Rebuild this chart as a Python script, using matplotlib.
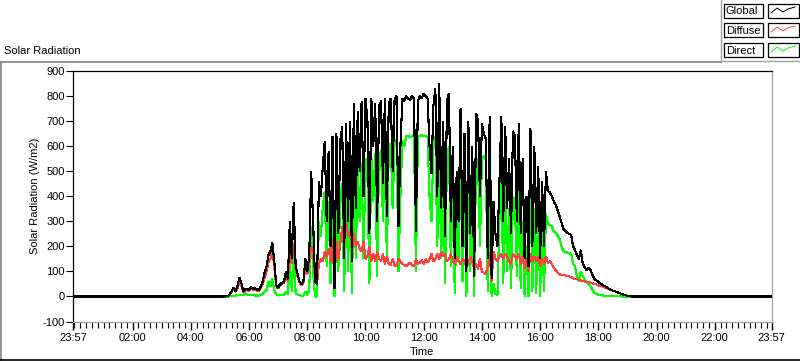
import matplotlib
matplotlib.use("Agg")
import matplotlib.pyplot as plt
from matplotlib.lines import Line2D
from matplotlib.patches import Rectangle
import numpy as np

# ---------------- data (W/m2), 4-minute samples from 05:12 ----------------
start_min = 312
step_min = 4
x_start, x_end = -3, 1437   # 23:57 .. 23:57

global_vals = [
    0, 2, 8, 20, 35, 22, 40, 75, 55, 20,
    28, 30, 25, 38, 30, 34, 28, 25, 40, 60,
    95, 120, 165, 180, 215, 140, 45, 35, 50, 55,
    60, 100, 70, 300, 150, 375, 120, 90, 60, 50,
    60, 150, 100, 160, 500, 300, 60, 50, 460, 400,
    520, 620, 300, 580, 200, 640, 30, 650, 250, 620,
    680, 150, 690, 300, 700, 140, 770, 350, 740, 500,
    780, 400, 790, 700, 250, 790, 600, 770, 300, 760,
    780, 450, 790, 320, 770, 790, 500, 790, 800, 280,
    600, 790, 780, 800, 790, 785, 800, 790, 260, 780,
    800, 790, 810, 800, 790, 600, 490, 760, 830, 400,
    850, 350, 700, 240, 780, 810, 300, 600, 150, 500,
    300, 750, 200, 650, 100, 700, 250, 600, 80, 730,
    700, 400, 690, 650, 630, 150, 720, 70, 380, 250,
    200, 450, 720, 300, 680, 350, 550, 250, 660, 640,
    300, 690, 250, 550, 150, 400, 120, 670, 200, 600,
    250, 520, 150, 460, 200, 500, 420, 415, 400, 380,
    365, 345, 320, 295, 270, 262, 255, 250, 245, 200,
    185, 165, 150, 185, 130, 115, 105, 115, 105, 85,
    70, 64, 58, 52, 47, 42, 38, 33, 29, 25,
    22, 19, 16, 13, 10, 7, 5, 3, 1, 0, 0,
]
diffuse_vals = [
    0, 2, 7, 17, 30, 19, 32, 55, 45, 17,
    24, 26, 22, 32, 26, 30, 24, 22, 34, 48,
    75, 100, 135, 150, 180, 120, 40, 32, 45, 50,
    55, 80, 60, 180, 130, 210, 110, 80, 55, 45,
    55, 120, 90, 130, 200, 180, 60, 50, 130, 150,
    140, 180, 160, 190, 140, 230, 50, 220, 150, 210,
    280, 200, 300, 240, 260, 180, 250, 200, 220, 190,
    180, 220, 150, 160, 200, 140, 170, 140, 180, 150,
    140, 170, 130, 160, 130, 125, 150, 125, 120, 150,
    140, 130, 125, 120, 130, 135, 125, 120, 150, 130,
    135, 145, 130, 150, 135, 150, 170, 140, 150, 170,
    150, 180, 160, 170, 140, 150, 170, 140, 130, 160,
    140, 130, 150, 140, 120, 130, 160, 140, 110, 130,
    110, 150, 100, 95, 90, 120, 170, 60, 180, 150,
    140, 160, 170, 150, 170, 160, 140, 130, 170, 160,
    150, 170, 130, 160, 110, 150, 100, 170, 140, 160,
    140, 160, 120, 150, 130, 160, 135, 140, 130, 115,
    105, 95, 88, 85, 84, 84, 82, 80, 78, 72,
    70, 68, 66, 64, 62, 60, 58, 57, 55, 52,
    50, 48, 45, 42, 40, 37, 34, 31, 28, 25,
    22, 19, 16, 13, 10, 7, 5, 3, 1, 0, 0,
]
direct_vals = [
    0, 0, 0, 2, 3, 3, 5, 6, 5, 4,
    12, 8, 5, 6, 5, 4, 4, 3, 5, 10,
    20, 25, 60, 40, 70, 25, 8, 4, 5, 5,
    5, 20, 10, 140, 20, 170, 10, 8, 5, 3,
    3, 20, 5, 25, 280, 100, 0, 0, 300, 240,
    360, 420, 120, 380, 50, 400, 0, 410, 100, 400,
    450, 20, 480, 100, 470, 10, 520, 150, 520, 300,
    530, 150, 550, 480, 50, 560, 380, 570, 80, 560,
    580, 300, 600, 150, 590, 610, 350, 620, 625, 100,
    400, 620, 600, 640, 640, 635, 640, 645, 100, 640,
    640, 645, 640, 640, 635, 400, 300, 600, 640, 200,
    600, 150, 500, 50, 560, 600, 120, 450, 10, 330,
    150, 560, 60, 450, 0, 500, 100, 400, 0, 550,
    540, 200, 550, 560, 545, 20, 400, 0, 50, 10,
    5, 300, 500, 50, 460, 100, 350, 30, 400, 380,
    80, 450, 30, 300, 0, 200, 0, 480, 20, 350,
    10, 350, 0, 300, 20, 330, 290, 285, 280, 260,
    255, 245, 230, 200, 180, 178, 175, 172, 170, 130,
    120, 80, 60, 100, 80, 65, 55, 50, 40, 25,
    15, 10, 7, 5, 4, 3, 3, 2, 2, 2,
    1, 1, 1, 1, 0, 0, 0, 0, 0, 0, 0,
]
series_names = ["Global", "Diffuse", "Direct"]
series_colors = ["#000000", "#FF4040", "#00FF00"]
y_ticks = list(range(-100, 1000, 100))
x_major = [-3, 120, 240, 360, 480, 600, 720, 840, 960, 1080, 1200, 1320, 1437]

# ---------------- figure ----------------
W, H = 800, 361
fig = plt.figure(figsize=(W / 100, H / 100), dpi=100)
fig.patch.set_facecolor("white")
FONT = "Liberation Sans"

def fx(px):
    return px / W

def fy(py):
    return 1 - py / H

# plot area in pixels
L, T, R, B = 73, 71, 771.5, 321.5
ax = fig.add_axes([fx(L), fy(B), fx(R) - fx(L), fy(T) - fy(B)])

n = len(global_vals)
times = [x_start] + [start_min + step_min * i for i in range(n)] + [x_end]
all_vals = [global_vals, diffuse_vals, direct_vals]
# direct first, global last (on top)
for idx in [2, 1, 0]:
    ax.plot(times, [0] + list(all_vals[idx]) + [0], color=series_colors[idx], lw=0.8,
            antialiased=False, solid_joinstyle="miter", zorder=3 - idx)

ax.set_xlim(x_start, x_end)
ax.set_ylim(-100, 900)

for s in ["left", "top"]:
    ax.spines[s].set_color("black")
    ax.spines[s].set_linewidth(0.9)
for s in ["right", "bottom"]:
    ax.spines[s].set_color("#A0A0A0")
    ax.spines[s].set_linewidth(0.9)

ax.set_yticks(y_ticks)
ax.set_yticklabels([str(v) for v in y_ticks], fontsize=8, family=FONT)
ax.tick_params(axis="y", direction="out", length=5, width=0.8, pad=1, color="black")

def fmt(m):
    m = int(m) % 1440
    return f"{m // 60:02d}:{m % 60:02d}"

ax.set_xticks(x_major)
ax.set_xticklabels([fmt(m) for m in x_major], fontsize=8, family=FONT)
ax.set_xticks(list(range(0, 1440, 12)), minor=True)
ax.tick_params(axis="x", which="major", direction="out", length=6, width=1.0, pad=2, color="black")
ax.tick_params(axis="x", which="minor", direction="out", length=4, width=0.8, color="black")

ax.set_xlabel("Time", fontsize=8, family=FONT, labelpad=3)
ax.set_ylabel("Solar Radiation (W/m2)", fontsize=8, family=FONT, labelpad=1.5)

# ---------------- outer frame and title ----------------
fig.add_artist(Line2D([fx(0), fx(721)], [fy(61.5), fy(61.5)], color="#808080", lw=1.2))
fig.add_artist(Line2D([fx(1), fx(1)], [fy(61.5), fy(359.5)], color="#808080", lw=1.2))
fig.add_artist(Line2D([fx(0), fx(800)], [fy(359.5), fy(359.5)], color="black", lw=1.2))
fig.text(fx(4), fy(51), "Solar Radiation", fontsize=8, family=FONT, va="center", ha="left")

# ---------------- legend ----------------
fig.add_artist(Line2D([fx(721), fx(721)], [fy(0), fy(61)], color="#A0A0A0", lw=1.0))
fig.add_artist(Line2D([fx(721), fx(800)], [fy(61), fy(61)], color="#A0A0A0", lw=1.0))
row_tops = [4, 23, 43]
for name, col, top in zip(series_names, series_colors, row_tops):
    fig.add_artist(Rectangle((fx(724), fy(top + 14)), fx(763) - fx(724), (fy(top) - fy(top + 14)),
                             fill=False, edgecolor="black", lw=0.9))
    fig.text(fx(726), fy(top + 7.5), name, fontsize=8, family=FONT, va="center", ha="left")
    fig.add_artist(Rectangle((fx(768), fy(top + 14)), fx(799) - fx(768), (fy(top) - fy(top + 14)),
                             fill=False, edgecolor="black", lw=0.9))
    zx = [771, 777, 783, 788, 795]
    zy = [top + 9, top + 4, top + 8, top + 5, top + 3]
    fig.add_artist(Line2D([fx(v) for v in zx], [fy(v) for v in zy], color=col, lw=0.7))

fig.savefig("out.png", dpi=100)
